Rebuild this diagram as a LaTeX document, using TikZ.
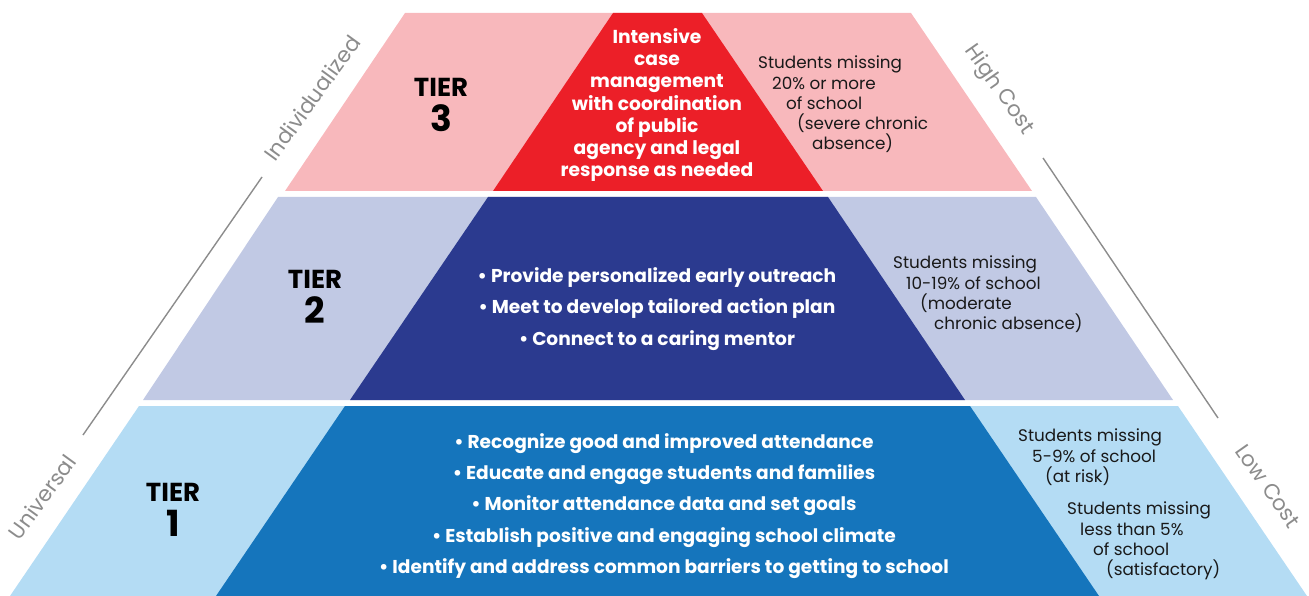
\documentclass[tikz,border=0pt]{standalone}
\usepackage{fontspec}
\setmainfont{Poppins}
\usepackage[svgnames]{xcolor}
\usetikzlibrary{positioning}

\definecolor{tierpink}{HTML}{F8B8BC}
\definecolor{tierred}{HTML}{EC1F28}
\definecolor{tierlav}{HTML}{C1C9E4}
\definecolor{tiernavy}{HTML}{2B3A8F}
\definecolor{tiersky}{HTML}{B4DCF4}
\definecolor{tierblue}{HTML}{1575BC}
\definecolor{sidegray}{HTML}{8C8C8C}

\tikzset{
  tierlabel/.style={font=\bfseries\fontsize{26}{35}\selectfont, align=center, text=black},
  bulletbox/.style={font=\bfseries\fontsize{18.6}{31.3}\selectfont, align=center, text=white},
  missbox/.style={font=\fontsize{16.8}{20.2}\selectfont, align=left, anchor=north west, inner sep=0pt, text=black!90},
  sidelabel/.style={font=\fontsize{21.5}{21.5}\selectfont, text=sidegray},
  sideline/.style={draw=sidegray, line width=1.4pt}
}

\begin{document}
\begin{tikzpicture}[x=1pt,y=-1pt]
\useasboundingbox (0,0) rectangle (1309,596);

\fill[tierpink] (405,13) -- (911,13) -- (1032,191) -- (285,191) -- cycle;
\fill[tierred] (613,13) -- (702,13) -- (823,191) -- (493,191) -- cycle;
\fill[tierlav] (278,197) -- (1036,197) -- (1173,400) -- (143,400) -- cycle;
\fill[tiernavy] (488,197) -- (828,197) -- (965,400) -- (350,400) -- cycle;
\fill[tiersky] (139,406) -- (1178,406) -- (1307,596) -- (10,596) -- cycle;
\fill[tierblue] (345,406) -- (970,406) -- (1099,596) -- (216,596) -- cycle;

\node[tierlabel] (tier3) at (441,105) {TIER\\{\fontsize{36}{35}\selectfont 3}};
\node[tierlabel] (tier2) at (315,297) {TIER\\{\fontsize{36}{35}\selectfont 2}};
\node[tierlabel] (tier1) at (173,510) {TIER\\{\fontsize{36}{35}\selectfont 1}};

\node[font=\bfseries\fontsize{18.7}{22.3}\selectfont, align=center, text=white] (care3) at (657,105)
  {Intensive\\case\\management\\with coordination\\of public\\agency and legal\\response as needed};

\node[bulletbox] (care2) at (657,309)
  {• Provide personalized early outreach\\• Meet to develop tailored action plan\\• Connect to a caring mentor};

\node[bulletbox] (care1) at (664,506)
  {• Recognize good and improved attendance\\• Educate and engage students and families\\• Monitor attendance data and set goals\\• Establish positive and engaging school climate\\• Identify and address common barriers to getting to school};

\node[missbox] (miss3) at (758,56)
  {Students missing\\\hspace*{14pt}20\% or more\\\hspace*{28pt}of school\\\hspace*{39pt}(severe chronic\\\hspace*{54pt}absence)};
\node[missbox] (miss2) at (893,256)
  {Students missing\\\hspace*{13pt}10-19\% of school\\\hspace*{27pt}(moderate\\\hspace*{41pt}chronic absence)};
\node[missbox] (miss1a) at (1018,429)
  {Students missing\\\hspace*{14pt}5-9\% of school\\\hspace*{27pt}(at risk)};
\node[missbox] (miss1b) at (1067,502)
  {Students missing\\\hspace*{13pt}less than 5\%\\\hspace*{26pt}of school\\\hspace*{39pt}(satisfactory)};

\coordinate (lefttop) at (262,177);
\coordinate (leftbot) at (83,435);
\coordinate (righttop) at (1043,158);
\coordinate (rightbot) at (1218,418);
\draw[sideline] (lefttop) -- (leftbot);
\draw[sideline] (righttop) -- (rightbot);

\node[sidelabel, rotate=54] (indiv) at (312,98) {Individualized};
\node[sidelabel, rotate=54] (univ) at (42,497) {Universal};
\node[sidelabel, rotate=-55] (high) at (999,90) {High Cost};
\node[sidelabel, rotate=-55] (low) at (1268,486) {Low Cost};
\end{tikzpicture}
\end{document}
